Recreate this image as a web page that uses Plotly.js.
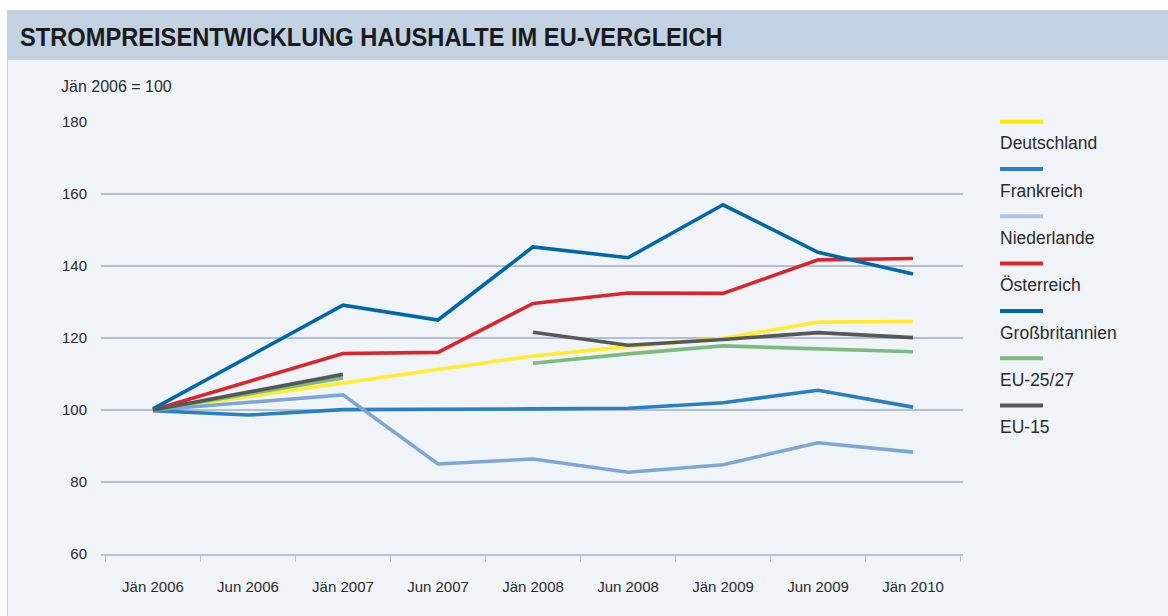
<!DOCTYPE html>
<html>
<head>
<meta charset="utf-8">
<script src="https://cdn.plot.ly/plotly-3.0.1.min.js"></script>
<style>
  html, body { margin: 0; padding: 0; background: #ffffff; }
  #chart { width: 1168px; height: 616px; }
</style>
</head>
<body>
<div id="chart"></div>
<script>
// ---- Data ----
const categories = ['Jän 2006','Jun 2006','Jän 2007','Jun 2007','Jän 2008','Jun 2008','Jän 2009','Jun 2009','Jän 2010'];
const deutschland     = [100, 103.8, 107.5, 111.2, 115.0, 117.6, 119.9, 124.4, 124.6];
const frankreich      = [99.8, 98.6, 100.1, 100.1, 100.3, 100.5, 102.0, 105.5, 100.8];
const niederlande     = [100, 102.0, 104.2, 85.0, 86.4, 82.7, 84.8, 90.9, 88.3];
const oesterreich     = [100, 107.8, 115.7, 116.0, 129.6, 132.5, 132.4, 141.7, 142.1];
const grossbritannien = [100.3, 114.6, 129.1, 125.0, 145.3, 142.3, 157.0, 143.8, 137.8];
const eu2527          = [100, 104.5, 108.9, null, 113.0, 115.6, 117.8, 116.9, 116.2];
const eu15            = [100, 105.0, 109.9, null, 121.6, 118.0, 119.6, 121.5, 120.1];

const seriesNames  = ['Deutschland','Frankreich','Niederlande','Österreich','Großbritannien','EU-25/27','EU-15'];
const seriesValues = [deutschland, frankreich, niederlande, oesterreich, grossbritannien, eu2527, eu15];
const seriesColors = ['#ffec2e','#2a7fc0','#7ba6d5','#d8262d','#0068aa','#7cba7f','#555759'];
const legendColors = ['#ffe800','#2a7fc0','#a9c3e3','#d8262d','#0068aa','#7cba7f','#555759'];

const titleText = 'STROMPREISENTWICKLUNG HAUSHALTE IM EU-VERGLEICH';
const unitText = 'Jän 2006 = 100';

// ---- Geometry helpers (pixel -> paper) ----
const FW = 1168, FH = 616;
const L = 101, R = 963, T = 122, B = 554;
const W = R - L, H = B - T;
const px2x = p => (p - L) / W;
const px2y = p => (B - p) / H;

const traces = seriesNames.map((n, i) => ({
  type: 'scatter',
  mode: 'lines',
  name: n,
  x: categories,
  y: seriesValues[i],
  line: { color: seriesColors[i], width: 3.6 },
  connectgaps: false,
  hoverinfo: 'x+y+name'
}));

const shapes = [
  // panel background
  { type: 'rect', xref: 'paper', yref: 'paper', layer: 'below',
    x0: px2x(7), x1: px2x(FW + 2), y0: px2y(FH + 2), y1: px2y(10),
    fillcolor: '#f0f4f9', line: { width: 0 } },
  // title bar
  { type: 'rect', xref: 'paper', yref: 'paper', layer: 'below',
    x0: px2x(7), x1: px2x(FW + 2), y0: px2y(60), y1: px2y(10),
    fillcolor: '#c3d2e2', line: { width: 0 } },
  // left panel border
  { type: 'line', xref: 'paper', yref: 'paper', layer: 'below',
    x0: px2x(7.5), x1: px2x(7.5), y0: px2y(60), y1: px2y(FH + 2),
    line: { color: '#c8d2df', width: 1 } }
];

const annotations = [
  { text: unitText, xref: 'paper', yref: 'paper', x: px2x(59), y: px2y(86),
    xanchor: 'left', yanchor: 'middle', showarrow: false,
    font: { family: 'Liberation Sans, Arial, sans-serif', size: 16, color: '#2b2b2b' } }
];

// custom legend: line sample above, text below
const legTop = 121.7, legStep = 47.3;
seriesNames.forEach((n, i) => {
  const ly = legTop + i * legStep;
  shapes.push({ type: 'line', xref: 'paper', yref: 'paper',
    x0: px2x(1000), x1: px2x(1043), y0: px2y(ly), y1: px2y(ly),
    line: { color: legendColors[i], width: 4 } });
  annotations.push({ text: n, xref: 'paper', yref: 'paper',
    x: px2x(998), y: px2y(ly + 21.6), xanchor: 'left', yanchor: 'middle',
    showarrow: false,
    font: { family: 'Liberation Sans, Arial, sans-serif', size: 17.5, color: '#2b2b2b' } });
});

const layout = {
  width: FW, height: FH,
  margin: { l: L, r: FW - R, t: T, b: FH - B, pad: 0 },
  paper_bgcolor: '#ffffff',
  plot_bgcolor: 'rgba(0,0,0,0)',
  showlegend: false,
  title: {
    text: titleText,
    xref: 'container', yref: 'container',
    x: 20 / FW, xanchor: 'left',
    y: 1 - 37 / FH, yanchor: 'middle',
    font: { family: 'Liberation Sans, Arial, sans-serif', size: 26.5, weight: 'bold', color: '#1b1b1b' }
  },
  xaxis: {
    type: 'category',
    range: [-0.547, 8.526],
    tickson: 'boundaries',
    ticks: 'outside', ticklen: 6, tickwidth: 1.5, tickcolor: '#b7c4da',
    showline: true, linecolor: '#b7c4da', linewidth: 2,
    showgrid: false, zeroline: false,
    ticklabelstandoff: 18,
    tickfont: { family: 'Liberation Sans, Arial, sans-serif', size: 15, color: '#2b2b2b' },
    fixedrange: true
  },
  yaxis: {
    range: [60, 180], dtick: 20, tick0: 60,
    showgrid: true, gridcolor: '#b3bfd6', gridwidth: 1.3,
    zeroline: false, showline: false, ticks: '',
    ticklabelstandoff: 13,
    tickfont: { family: 'Liberation Sans, Arial, sans-serif', size: 15, color: '#2b2b2b' },
    fixedrange: true
  },
  shapes: shapes,
  annotations: annotations
};

// condense the title horizontally to match the narrow display face of the original
function condenseTitle() {
  const t = document.querySelector('#chart .gtitle');
  if (!t) return;
  const x0 = parseFloat(t.getAttribute('x')) || 20;
  const bb = t.getBBox();
  const target = 703;
  if (bb.width > 0) {
    const s = Math.min(1, target / bb.width);
    t.setAttribute('transform', 'translate(' + x0 + ',0) scale(' + s + ',1) translate(' + (-x0) + ',0)');
  }
}

Plotly.newPlot('chart', traces, layout, { displayModeBar: false, staticPlot: true })
  .then(condenseTitle);
</script>
</body>
</html>
